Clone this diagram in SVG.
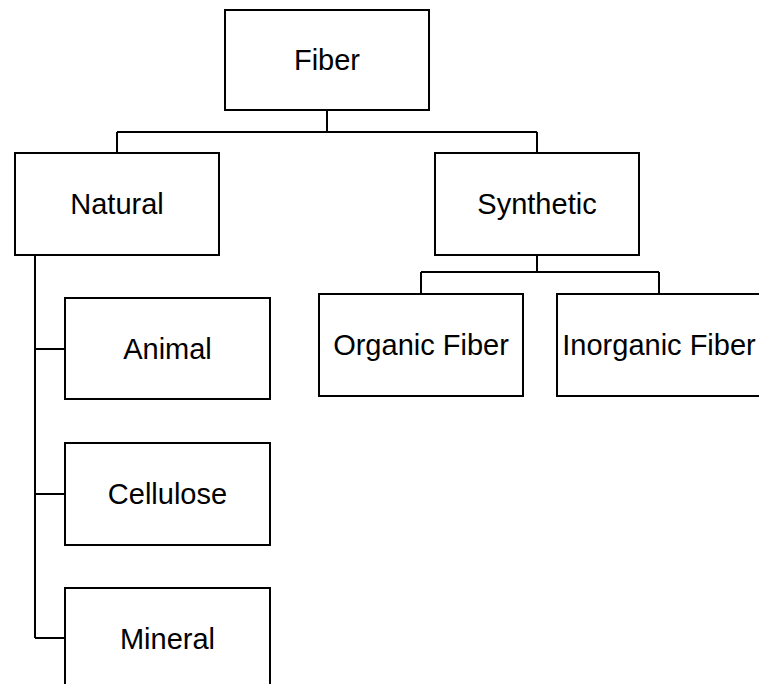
<svg xmlns="http://www.w3.org/2000/svg" width="759" height="684" viewBox="0 0 759 684">
  <style>
    .box { fill: #ffffff; stroke: #000000; stroke-width: 2; }
    .lbl { font-family: "Liberation Sans", Arial, sans-serif; font-size: 29px; fill: #000000; text-anchor: middle; dominant-baseline: central; }
    .wire { fill: none; stroke: #000000; stroke-width: 2; }
  </style>
  <rect width="759" height="684" fill="#ffffff"/>

  <!-- tree connectors -->
  <g id="connectors" class="wire">
    <path d="M327 110 V132 M117 132 H537 M117 132 V153 M537 132 V153"/>
    <path d="M537 255 V272 M421 272 H659 M421 272 V294 M659 272 V294"/>
    <path d="M35 255 V638 M35 349 H65 M35 494 H65 M35 638 H65"/>
  </g>

  <g id="fiber">
    <rect class="box" x="225" y="10" width="204" height="100"/>
    <text class="lbl" x="327" y="60">Fiber</text>
  </g>
  <g id="natural">
    <rect class="box" x="15" y="153" width="204" height="102"/>
    <text class="lbl" x="117" y="204">Natural</text>
  </g>
  <g id="synthetic">
    <rect class="box" x="435" y="153" width="204" height="102"/>
    <text class="lbl" x="537" y="204">Synthetic</text>
  </g>
  <g id="organic">
    <rect class="box" x="319" y="294" width="204" height="102"/>
    <text class="lbl" x="421" y="345">Organic Fiber</text>
  </g>
  <g id="inorganic">
    <rect class="box" x="557" y="294" width="204" height="102"/>
    <text class="lbl" x="659" y="345">Inorganic Fiber</text>
  </g>
  <g id="animal">
    <rect class="box" x="65" y="298" width="205" height="101"/>
    <text class="lbl" x="167.5" y="349">Animal</text>
  </g>
  <g id="cellulose">
    <rect class="box" x="65" y="443" width="205" height="102"/>
    <text class="lbl" x="167.5" y="494">Cellulose</text>
  </g>
  <g id="mineral">
    <rect class="box" x="65" y="588" width="205" height="102"/>
    <text class="lbl" x="167.5" y="639">Mineral</text>
  </g>
</svg>
